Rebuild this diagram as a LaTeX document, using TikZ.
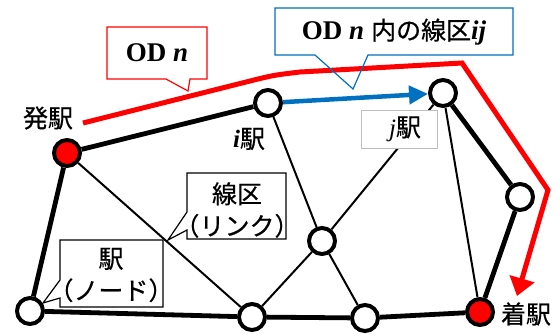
\documentclass[tikz,border=0pt]{standalone}
\usepackage{fontspec}
\setmainfont{Liberation Serif}
\newfontfamily\jp[FakeBold=0.6]{Noto Sans CJK JP}
\usetikzlibrary{arrows.meta}
\definecolor{odred}{RGB}{255,0,0}
\definecolor{odblue}{RGB}{0,112,192}
\definecolor{boxgray}{RGB}{190,190,190}
\begin{document}
\begin{tikzpicture}[x=1pt,y=-1pt,
  stn/.style={circle,draw=black,line width=4pt,fill=white,minimum size=26pt,inner sep=0pt},
  ostn/.style={stn,fill=odred},
  thickedge/.style={line width=4.8pt},
  thinedge/.style={line width=2pt},
  jptext/.style={font=\jp\fontsize{25}{32}\selectfont,inner sep=0pt,align=center},
  latin/.style={font=\bfseries\fontsize{27}{30}\selectfont,inner sep=0pt},
  callout/.style={line width=1.2pt},
]
\useasboundingbox (0,0) rectangle (560,333);

% stations
\node[ostn] (O) at (67,153) {};
\node[stn] (I) at (268,103) {};
\node[stn] (J) at (443,93) {};
\node[stn] (R) at (520,197) {};
\node[ostn] (D) at (480,312) {};
\node[stn] (BL) at (30,311) {};
\node[stn] (B1) at (252,317) {};
\node[stn] (C) at (322,241) {};
\node[stn] (B2) at (365,318) {};

% thin links
\draw[thinedge] (O) -- (B1);
\draw[thinedge] (I) -- (C);
\draw[thinedge] (C) -- (B2);
\draw[thinedge] (C) -- (B1);
\draw[thinedge] (C) -- (J);
\draw[thinedge] (J) -- (D);

% thick links
\draw[thickedge] (O) -- (I);
\draw[thickedge] (J) -- (R);
\draw[thickedge] (R) -- (D);
\draw[thickedge] (D) -- (B2);
\draw[thickedge] (B2) -- (B1);
\draw[thickedge] (B1) -- (BL);
\draw[thickedge] (BL) -- (O);

% blue link ij
\draw[odblue,line width=4.5pt,-{Triangle[length=19pt,width=18pt]}] (I) -- (J);

% red OD path
\coordinate (r0) at (83,123);
\coordinate (r1) at (258,79);
\coordinate (r1b) at (300,72);
\coordinate (r2) at (462,63);
\coordinate (r3) at (548,190);
\coordinate (r4) at (517,296);
\draw[odred,line width=5pt,-{Triangle[length=18pt,width=25pt]}]
  (r0) -- (r1) .. controls (275,75) .. (r1b) -- (r2) -- (r3) -- (r4);

% station labels
\node[jptext] (lO) at (48,118) {発駅};
\node[jptext] (lD) at (526,314) {着駅};
\node[jptext] (lI) at (249,139) {{\rmfamily\bfseries\itshape i}駅};

% j label box
\draw[boxgray,line width=1pt,fill=white] (361,110) rectangle (437,148);
\node[jptext] (lJ) at (405,129) {{\rmfamily\itshape j}駅};

% red callout
\fill[white] (107,27) rectangle (207,79);
\draw[odred,callout] (107,27) -- (207,27) -- (207,79) -- (190,79) -- (188,91) -- (166,79) -- (107,79) -- cycle;
\node[latin] (tOD) at (157,53) {OD \textit{n}};

% blue callout
\fill[white] (275,8) rectangle (513,55);
\draw[odblue,callout] (275,8) -- (513,8) -- (513,55) -- (368,55) -- (353,89) -- (315,55) -- (275,55) -- cycle;
\node[inner sep=0pt] (tODij) at (394,32) {{\bfseries\fontsize{27}{30}\selectfont OD \textit{n}}\hspace{7pt}{\jp\fontsize{25}{30}\selectfont 内の線区}{\bfseries\itshape\fontsize{27}{30}\selectfont ij}};

% link callout
\draw[callout,fill=white] (187,173) -- (286,173) -- (286,239) -- (187,239) -- (187,230) -- (168,240) -- (187,212) -- cycle;
\node[jptext] (tLink) at (237,210) {線区\\（リンク）};

% node callout
\draw[callout,fill=white] (60,240) -- (163,240) -- (163,307) -- (60,307) -- (60,298) -- (43,303) -- (60,280) -- cycle;
\node[jptext] (tNode) at (111,275) {駅\\（ノード）};
\end{tikzpicture}
\end{document}
